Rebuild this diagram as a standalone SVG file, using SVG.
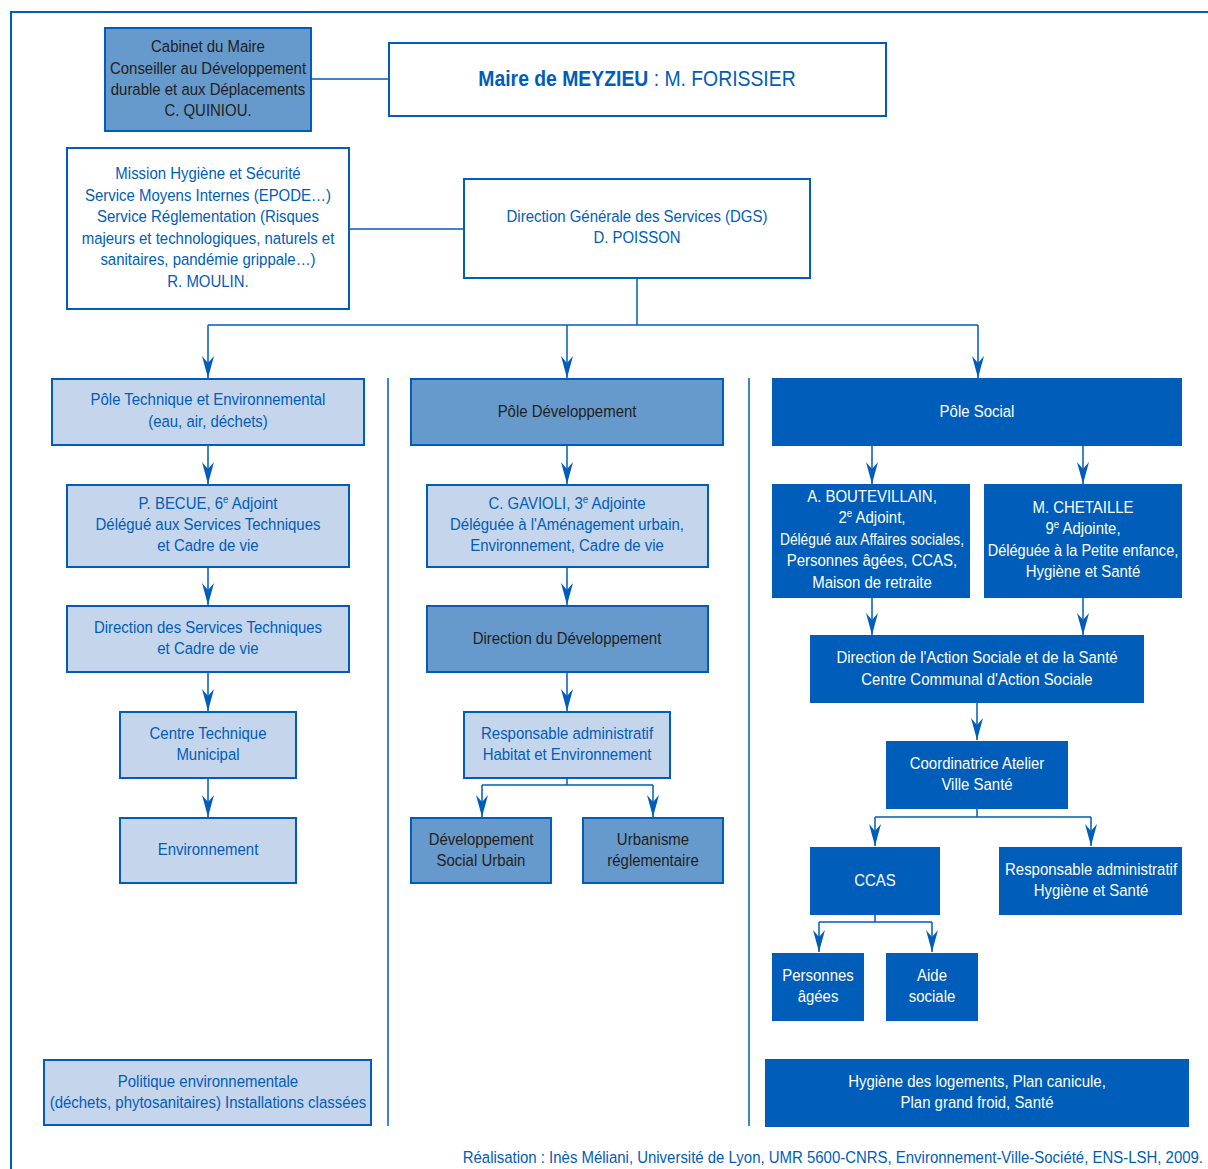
<svg xmlns="http://www.w3.org/2000/svg" width="1208" height="1169" viewBox="0 0 1208 1169">
<style>
text{font-family:"Liberation Sans",Arial,sans-serif;font-size:17px;text-anchor:middle;transform-box:fill-box;transform-origin:center;transform:scaleX(0.88)}
text.foot{text-anchor:end;fill:#005DBA;transform-origin:right center}
text.n{transform:scaleX(0.81)}
text.n2{transform:scaleX(0.855)}
.d rect{fill:#005DBA;stroke:#005DBA;stroke-width:2}
.d text{fill:#fff}
.m rect{fill:#6699CC;stroke:#005DBA;stroke-width:2}
.m text{fill:#231F20}
.l rect{fill:#C5D5EB;stroke:#005DBA;stroke-width:2}
.l text{fill:#005DBA}
.w rect{fill:#fff;stroke:#005DBA;stroke-width:2}
.w text{fill:#005DBA}
.c{fill:none;stroke:#005DBA;stroke-width:1.5}
.a{marker-end:url(#ah)}
</style>
<defs>
<marker id="ah" viewBox="0 0 22 12" refX="22" refY="6" markerWidth="22" markerHeight="12" markerUnits="userSpaceOnUse" orient="auto">
<path d="M0,0 L22,6 L0,12 L7,6 Z" fill="#005DBA"/>
</marker>
</defs>
<rect width="1208" height="1169" fill="#fff"/>
<path d="M11,1169 V12 H1208" fill="none" stroke="#005DBA" stroke-width="2"/>

<g id="connectors">
<path class="c" d="M311,79 H389"/>
<path class="c" d="M349,229 H464"/>
<path class="c" d="M637,278 V325 M208,325 H978"/>
<path class="c a" d="M208,325 V378"/>
<path class="c a" d="M567,325 V378"/>
<path class="c a" d="M978,325 V378"/>
<path class="c" d="M388,378 V1126 M749,378 V1126"/>
<path class="c a" d="M208,445 V484"/>
<path class="c a" d="M208,567 V605"/>
<path class="c a" d="M208,672 V711"/>
<path class="c a" d="M208,778 V817"/>
<path class="c a" d="M567,445 V484"/>
<path class="c a" d="M567,567 V605"/>
<path class="c a" d="M567,672 V711"/>
<path class="c" d="M567,778 V785 M482,785 H653"/>
<path class="c a" d="M482,785 V817"/>
<path class="c a" d="M653,785 V817"/>
<path class="c a" d="M872,446 V484"/>
<path class="c a" d="M1083,446 V484"/>
<path class="c a" d="M872,598 V635"/>
<path class="c a" d="M1083,598 V635"/>
<path class="c a" d="M977,703 V740"/>
<path class="c" d="M977,809 V817 M875,817 H1091"/>
<path class="c a" d="M875,817 V846"/>
<path class="c a" d="M1091,817 V846"/>
<path class="c" d="M875,915 V922 M819,922 H932"/>
<path class="c a" d="M819,922 V952"/>
<path class="c a" d="M932,922 V952"/>
</g>

<g id="cabinet" class="m"><rect x="105" y="28" width="206" height="103"/>
<text x="208" y="52">Cabinet du Maire</text><text x="208" y="74">Conseiller au Développement</text><text x="208" y="95">durable et aux Déplacements</text><text x="208" y="116">C. QUINIOU.</text></g>

<g id="maire" class="w"><rect x="389" y="43" width="497" height="73"/>
<text x="637" y="86" style="font-size:22px"><tspan font-weight="bold">Maire de MEYZIEU</tspan> : M. FORISSIER</text></g>

<g id="mission" class="w"><rect x="67" y="148" width="282" height="161"/>
<text x="208" y="179">Mission Hygiène et Sécurité</text><text x="208" y="201">Service Moyens Internes (EPODE…)</text><text x="208" y="222">Service Réglementation (Risques</text><text x="208" y="244">majeurs et technologiques, naturels et</text><text x="208" y="265">sanitaires, pandémie grippale…)</text><text x="208" y="287">R. MOULIN.</text></g>

<g id="dgs" class="w"><rect x="464" y="179" width="346" height="99"/>
<text x="637" y="222">Direction Générale des Services (DGS)</text><text x="637" y="243">D. POISSON</text></g>

<g id="pole-tech" class="l"><rect x="52" y="379" width="312" height="66"/>
<text x="208" y="405">Pôle Technique et Environnemental</text><text x="208" y="427">(eau, air, déchets)</text></g>

<g id="becue" class="l"><rect x="67" y="485" width="282" height="82"/>
<text x="208" y="509">P. BECUE, 6<tspan dy="-6" font-size="11">e</tspan><tspan dy="6"> Adjoint</tspan></text><text x="208" y="530">Délégué aux Services Techniques</text><text x="208" y="551">et Cadre de vie</text></g>

<g id="dir-tech" class="l"><rect x="67" y="606" width="282" height="66"/>
<text x="208" y="633">Direction des Services Techniques</text><text x="208" y="654">et Cadre de vie</text></g>

<g id="ctm" class="l"><rect x="120" y="712" width="176" height="66"/>
<text x="208" y="739">Centre Technique</text><text x="208" y="760">Municipal</text></g>

<g id="environnement" class="l"><rect x="120" y="818" width="176" height="65"/>
<text x="208" y="855">Environnement</text></g>

<g id="politique" class="l"><rect x="44" y="1060" width="327" height="65"/>
<text x="208" y="1087">Politique environnementale</text><text x="208" y="1108">(déchets, phytosanitaires) Installations classées</text></g>

<g id="pole-dev" class="m"><rect x="411" y="379" width="312" height="66"/>
<text x="567" y="417">Pôle Développement</text></g>

<g id="gavioli" class="l"><rect x="427" y="485" width="281" height="82"/>
<text x="567" y="509">C. GAVIOLI, 3<tspan dy="-6" font-size="11">e</tspan><tspan dy="6"> Adjointe</tspan></text><text x="567" y="530">Déléguée à l'Aménagement urbain,</text><text x="567" y="551">Environnement, Cadre de vie</text></g>

<g id="dir-dev" class="m"><rect x="427" y="606" width="281" height="66"/>
<text x="567" y="644">Direction du Développement</text></g>

<g id="resp-habitat" class="l"><rect x="464" y="712" width="206" height="66"/>
<text x="567" y="739">Responsable administratif</text><text x="567" y="760">Habitat et Environnement</text></g>

<g id="dsu" class="m"><rect x="411" y="818" width="140" height="65"/>
<text x="481" y="845">Développement</text><text x="481" y="866">Social Urbain</text></g>

<g id="urbanisme" class="m"><rect x="583" y="818" width="140" height="65"/>
<text x="653" y="845">Urbanisme</text><text x="653" y="866">réglementaire</text></g>

<g id="pole-social" class="d"><rect x="773" y="379" width="408" height="66"/>
<text x="977" y="417">Pôle Social</text></g>

<g id="boutevillain" class="d"><rect x="773" y="485" width="196" height="112"/>
<text x="872" y="502">A. BOUTEVILLAIN,</text><text x="872" y="523">2<tspan dy="-6" font-size="11">e</tspan><tspan dy="6"> Adjoint,</tspan></text><text class="n" x="872" y="545">Délégué aux Affaires sociales,</text><text x="872" y="566">Personnes âgées, CCAS,</text><text x="872" y="588">Maison de retraite</text></g>

<g id="chetaille" class="d"><rect x="985" y="485" width="196" height="112"/>
<text x="1083" y="513">M. CHETAILLE</text><text x="1083" y="534">9<tspan dy="-6" font-size="11">e</tspan><tspan dy="6"> Adjointe,</tspan></text><text class="n2" x="1083" y="556">Déléguée à la Petite enfance,</text><text x="1083" y="577">Hygiène et Santé</text></g>

<g id="dir-social" class="d"><rect x="811" y="636" width="332" height="66"/>
<text x="977" y="663">Direction de l'Action Sociale et de la Santé</text><text x="977" y="685">Centre Communal d'Action Sociale</text></g>

<g id="coordinatrice" class="d"><rect x="887" y="742" width="180" height="66"/>
<text x="977" y="769">Coordinatrice Atelier</text><text x="977" y="790">Ville Santé</text></g>

<g id="ccas" class="d"><rect x="811" y="848" width="128" height="66"/>
<text x="875" y="886">CCAS</text></g>

<g id="resp-hygiene" class="d"><rect x="1000" y="848" width="181" height="66"/>
<text x="1091" y="875">Responsable administratif</text><text x="1091" y="896">Hygiène et Santé</text></g>

<g id="personnes-agees" class="d"><rect x="773" y="954" width="90" height="66"/>
<text x="818" y="981">Personnes</text><text x="818" y="1002">âgées</text></g>

<g id="aide-sociale" class="d"><rect x="887" y="954" width="90" height="66"/>
<text x="932" y="981">Aide</text><text x="932" y="1002">sociale</text></g>

<g id="hygiene-logements" class="d"><rect x="766" y="1060" width="422" height="66"/>
<text x="977" y="1087">Hygiène des logements, Plan canicule,</text><text x="977" y="1108">Plan grand froid, Santé</text></g>

<text class="foot" x="1203" y="1163">Réalisation : Inès Méliani, Université de Lyon, UMR 5600-CNRS, Environnement-Ville-Société, ENS-LSH, 2009.</text>
</svg>
